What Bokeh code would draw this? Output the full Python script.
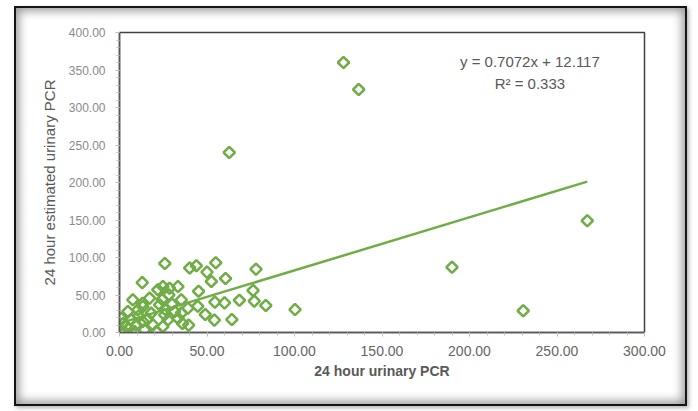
import numpy as np
from bokeh.plotting import figure
from bokeh.models import Label, SingleIntervalTicker, NumeralTickFormatter, Range1d, ColumnDataSource
from bokeh.embed import file_html
from bokeh.resources import INLINE

# 24 hour urinary PCR (x) and 24 hour estimated urinary PCR (y)
pcr_24h = [128.0, 136.7, 62.7, 267.3, 190.0, 230.7, 100.3,
           25.9, 40.1, 43.9, 55.0, 50.0, 78.0, 60.6, 52.5, 13.0, 45.2, 76.3,
           54.5, 60.0, 68.5, 77.0, 83.6, 44.7, 49.0, 54.2, 64.2, 39.5,
           24.8, 28.6, 33.4, 28.2, 35.3, 17.2, 7.6, 22.9, 13.3, 4.8, 10.5,
           18.1, 25.8, 31.5, 35.3, 39.1, 1.0, 6.7, 13.3, 19.1, 27.7, 33.4,
           0.5, 2.9, 8.6, 14.3, 21.0, 3.8, 9.5, 24.8,
           21.9, 24.4, 13.2, 2.0, 5.0, 11.0, 16.0, 30.0, 36.0, 26.0]
pcr_est = [360.0, 324.0, 240.0, 149.0, 87.0, 29.0, 30.6,
           92.0, 86.0, 89.0, 93.0, 80.5, 84.4, 72.0, 68.0, 66.5, 55.0, 56.0,
           40.5, 39.5, 43.0, 41.8, 36.0, 35.0, 24.0, 16.5, 17.3, 9.8,
           61.3, 59.0, 61.3, 50.2, 43.6, 45.8, 43.6, 36.9, 34.7, 28.0, 30.2,
           25.8, 23.6, 28.0, 25.8, 32.4, 19.0, 16.9, 14.7, 10.2, 16.9, 19.0,
           1.3, 0.5, 1.3, 3.6, 1.3, 8.0, 10.2, 8.0,
           57.0, 44.0, 39.0, 12.0, 5.0, 22.0, 18.0, 38.0, 12.0, 31.0]

trend_slope = 0.7072
trend_intercept = 12.117
r_squared = 0.333

x_title = "24 hour urinary PCR"
y_title = "24 hour estimated urinary PCR"
eq_text = "y = 0.7072x + 12.117"
r2_text = "R\u00b2 = 0.333"

GREEN = "#70AD47"

p = figure(width=673, height=400, output_backend="svg", toolbar_location=None,
           x_range=Range1d(0, 300), y_range=Range1d(0, 400),
           min_border_left=103, min_border_right=45, min_border_top=24, min_border_bottom=76)

p.border_fill_alpha = 0
p.background_fill_color = "white"
p.outline_line_color = "#404040"
p.outline_line_width = 1.5
p.xgrid.visible = False
p.ygrid.visible = False

p.styles = {
    "margin-left": "14px",
    "margin-top": "6px",
    "border": "2px solid #141414",
    "box-shadow": "inset 0 0 10px 3px rgba(0,0,0,0.40), 2px 2px 4px rgba(0,0,0,0.30)",
}

for ax in (p.xaxis[0], p.yaxis[0]):
    ax.ticker = SingleIntervalTicker(interval=50, num_minor_ticks=5)
    ax.formatter = NumeralTickFormatter(format="0.00")
    ax.axis_line_color = "#595959"
    ax.axis_line_width = 1.5
    ax.major_tick_line_color = "#bfbfbf"
    ax.minor_tick_line_color = "#bfbfbf"
    ax.major_tick_in = 0
    ax.major_tick_out = 4
    ax.minor_tick_in = 0
    ax.minor_tick_out = 3

p.xaxis.major_label_text_font = "Liberation Sans"
p.xaxis.major_label_text_font_size = "14px"
p.xaxis.major_label_text_color = "#666666"
p.xaxis.major_label_standoff = 9
p.xaxis.axis_label = x_title
p.xaxis.axis_label_text_font = "Liberation Sans"
p.xaxis.axis_label_text_font_size = "14px"
p.xaxis.axis_label_text_font_style = "bold"
p.xaxis.axis_label_text_color = "#595959"
p.xaxis.axis_label_standoff = 4

p.yaxis.major_label_text_font = "Liberation Sans"
p.yaxis.major_label_text_font_size = "12px"
p.yaxis.major_label_text_color = "#8a8a8a"
p.yaxis.major_label_standoff = 10
p.yaxis.axis_label = y_title
p.yaxis.axis_label_text_font = "Liberation Sans"
p.yaxis.axis_label_text_font_size = "15px"
p.yaxis.axis_label_text_font_style = "normal"
p.yaxis.axis_label_text_color = "#595959"
p.yaxis.axis_label_standoff = 8

# trend line over the data range
x_lo, x_hi = min(pcr_24h), max(pcr_24h)
tx = [x_lo, x_hi]
ty = [trend_slope * v + trend_intercept for v in tx]
p.line(tx, ty, line_color=GREEN, line_width=2.5)

src = ColumnDataSource(dict(x=pcr_24h, y=pcr_est))
p.scatter("x", "y", source=src, marker="square", angle=np.pi / 4, size=8,
          fill_color=None, line_color=GREEN, line_width=2.5)

p.add_layout(Label(x=234.5, y=361.5, text=eq_text, text_align="center", text_baseline="middle",
                   text_font="Liberation Sans", text_font_size="15px", text_color="#595959"))
p.add_layout(Label(x=234.5, y=331.5, text=r2_text, text_align="center", text_baseline="middle",
                   text_font="Liberation Sans", text_font_size="15px", text_color="#595959"))

open("out.html", "w").write(file_html(p, INLINE))
